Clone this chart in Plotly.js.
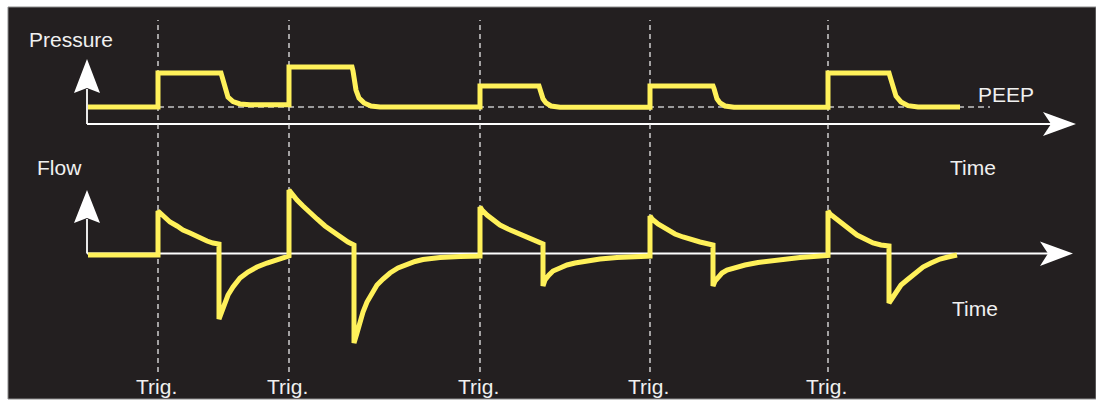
<!DOCTYPE html>
<html><head><meta charset="utf-8">
<script src="https://cdn.plot.ly/plotly-3.0.1.min.js"></script>
<style>html,body{margin:0;padding:0;background:#fff;}#chart{width:1096px;height:400px;}</style>
</head><body><div id="chart"></div>
<script>
// ---- Data ----
// Airway pressure waveform: time (s) and pressure (cmH2O)
const pressureTime = [0.01,0.71,0.71,1.34,1.35,1.36,1.38,1.41,1.46,1.53,1.63,2.02,2.02,2.65,2.66,2.67,2.69,2.72,2.77,2.84,2.93,3.93,3.93,4.52,4.53,4.54,4.56,4.59,4.64,4.73,5.63,5.63,6.26,6.27,6.28,6.30,6.33,6.38,6.47,7.41,7.41,8.02,8.03,8.04,8.06,8.09,8.14,8.21,8.31,8.73];
const pressureValue = [5,5,15,15,14,12.9,10,7.9,6.6,5.9,5.65,5.65,16.8,16.8,15.6,13.5,10,7.6,6.2,5.3,5.0,5.0,11.2,11.2,10.4,9.1,7.4,6.2,5.3,4.9,4.9,11.2,11.2,10.4,9.1,7.4,6.2,5.3,4.9,4.9,15,15,14,12.9,10.6,8.2,6.5,5.4,5.0,5.0];
// Flow waveform: time (s) and flow (L/min)
const flowTime = [0.01,0.71,0.71,0.74,0.78,0.83,0.90,0.96,1.03,1.11,1.20,1.26,1.32,
  1.32,1.35,1.38,1.41,1.46,1.53,1.61,1.70,1.80,1.90,2.00,2.02,
  2.02,2.05,2.10,2.16,2.23,2.30,2.38,2.46,2.54,2.61,2.67,
  2.67,2.70,2.73,2.76,2.80,2.85,2.90,2.96,3.03,3.11,3.20,3.28,3.36,3.53,3.73,3.93,
  3.93,3.95,4.00,4.06,4.13,4.21,4.30,4.38,4.46,4.56,
  4.56,4.58,4.62,4.66,4.73,4.80,4.88,4.98,5.13,5.30,5.48,5.63,
  5.63,5.65,5.71,5.80,5.88,5.96,6.05,6.13,6.26,
  6.26,6.28,6.31,6.35,6.40,6.46,6.58,6.71,6.88,7.13,7.41,
  7.41,7.43,7.48,7.53,7.61,7.70,7.78,7.86,7.94,8.02,
  8.02,8.05,8.09,8.14,8.20,8.28,8.36,8.44,8.53,8.61,8.70];
const flowValue = [0,0,44,41,37,33,29,25,22,18,14,12,11,
  -64,-57,-48,-40,-32,-23,-17,-12,-8,-5,-2,-1,
  65,61,55,49,42,36,29,23,17,13,10,
  -88,-78,-67,-57,-47,-38,-30,-24,-18,-13,-9,-6.5,-4.5,-2.5,-1.5,-1,
  48,45,40,35,30,26,22,18,15,11,
  -31,-25,-20,-16,-13,-10,-8,-6,-4,-2.5,-1.5,-1,
  39,36,31,25,21,18,15,13,10,
  -31,-26,-22,-18,-15,-13,-10,-7.5,-5,-2.5,-0.5,
  44,41,37,33,26,20,16,12,10,9,
  -48,-43,-36,-30,-25,-18,-12,-8,-4,-2,0];
const triggerTimes = [0.71, 2.02, 3.93, 5.63, 7.41];
const triggerLabel = "Trig.";
const peepLevel = 5;
const peepSpan = [0.71, 9.03];
const textLabels = {pressure: "Pressure", flow: "Flow", peep: "PEEP", time: "Time"};

// ---- Layout helpers (pixel -> paper) ----
const W = 1096, H = 400;
const px = x => x / W;
const py = y => 1 - y / H;
const path = pts => 'M' + pts.map(p => px(p[0]).toFixed(5) + ',' + py(p[1]).toFixed(5)).join(' L') + ' Z';

const yellow = '#fff15a';
const bg = '#231f20';
const white = '#ffffff';
const font = {family: 'Liberation Sans, Arial, Helvetica, sans-serif', size: 21, color: '#f0f0f0'};

const traces = [
  {x: pressureTime, y: pressureValue, xaxis: 'x', yaxis: 'y', mode: 'lines',
   line: {color: yellow, width: 5}, hoverinfo: 'skip', showlegend: false},
  {x: flowTime, y: flowValue, xaxis: 'x', yaxis: 'y2', mode: 'lines',
   line: {color: yellow, width: 5}, hoverinfo: 'skip', showlegend: false}
];

const shapes = [
  {type: 'rect', xref: 'paper', yref: 'paper', x0: px(8), x1: 1, y0: py(399), y1: py(7),
   fillcolor: bg, line: {color: '#8c8c8c', width: 1}, layer: 'below'},
  // pressure axes
  {type: 'line', xref: 'paper', yref: 'paper', x0: px(87), x1: px(87), y0: py(124), y1: py(89), line: {color: white, width: 1.8}, layer: 'below'},
  {type: 'line', xref: 'paper', yref: 'paper', x0: px(87), x1: px(1052), y0: py(124), y1: py(124), line: {color: white, width: 1.8}, layer: 'below'},
  {type: 'path', xref: 'paper', yref: 'paper', path: path([[87,59],[74,93],[87,88],[100,93]]), fillcolor: white, line: {width: 0}, layer: 'below'},
  {type: 'path', xref: 'paper', yref: 'paper', path: path([[1076,124],[1043,112],[1051,124],[1043,136]]), fillcolor: white, line: {width: 0}, layer: 'below'},
  // flow axes
  {type: 'line', xref: 'paper', yref: 'paper', x0: px(87), x1: px(87), y0: py(253.5), y1: py(219), line: {color: white, width: 1.8}, layer: 'below'},
  {type: 'line', xref: 'paper', yref: 'paper', x0: px(87), x1: px(1050), y0: py(253.5), y1: py(253.5), line: {color: white, width: 1.8}, layer: 'below'},
  {type: 'path', xref: 'paper', yref: 'paper', path: path([[87,190],[74,223],[87,218],[100,223]]), fillcolor: white, line: {width: 0}, layer: 'below'},
  {type: 'path', xref: 'paper', yref: 'paper', path: path([[1073,253.5],[1040,241.5],[1048,253.5],[1040,266]]), fillcolor: white, line: {width: 0}, layer: 'below'},
  // PEEP reference
  {type: 'line', xref: 'x', yref: 'y', x0: peepSpan[0], x1: peepSpan[1], y0: peepLevel, y1: peepLevel,
   line: {color: '#c4c4c4', width: 1.6, dash: '6px,4px'}, layer: 'below'}
];
triggerTimes.forEach(t => shapes.push({type: 'line', xref: 'x', yref: 'paper', x0: t, x1: t, y0: py(372), y1: py(20),
  line: {color: '#e8e8e8', width: 1.3, dash: '5px,4px'}, layer: 'below'}));

const annotations = [
  {text: textLabels.pressure, x: px(27), y: py(39), xanchor: 'left'},
  {text: textLabels.flow, x: px(35), y: py(168), xanchor: 'left'},
  {text: textLabels.peep, x: px(976), y: py(94), xanchor: 'left'},
  {text: textLabels.time, x: px(948), y: py(167), xanchor: 'left'},
  {text: textLabels.time, x: px(950), y: py(308), xanchor: 'left'}
].map(a => Object.assign({xref: 'paper', yref: 'paper', yanchor: 'middle', showarrow: false, font: font}, a));
triggerTimes.forEach(t => annotations.push({text: triggerLabel, xref: 'x', x: t, xshift: -2, yref: 'paper', y: py(386),
  xanchor: 'center', yanchor: 'middle', showarrow: false, font: font}));

// x: 1 s = 100 px, t = 0 at pixel 87; pressure: 3.4 px per cmH2O, 0 at pixel 124; flow: 1 px per L/min, 0 at pixel 255
const layout = {
  width: W, height: H, autosize: false,
  margin: {l: 0, r: 0, t: 0, b: 0, pad: 0},
  paper_bgcolor: '#ffffff', plot_bgcolor: 'rgba(0,0,0,0)',
  showlegend: false, hovermode: false,
  xaxis: {range: [-0.87, (W - 87) / 100], visible: false, fixedrange: true},
  yaxis: {range: [-(H - 124) / 3.4, 124 / 3.4], visible: false, fixedrange: true},
  yaxis2: {range: [-(H - 255), 255], overlaying: 'y', visible: false, fixedrange: true},
  shapes: shapes,
  annotations: annotations
};

Plotly.newPlot('chart', traces, layout, {displayModeBar: false, staticPlot: true});
</script></body></html>
